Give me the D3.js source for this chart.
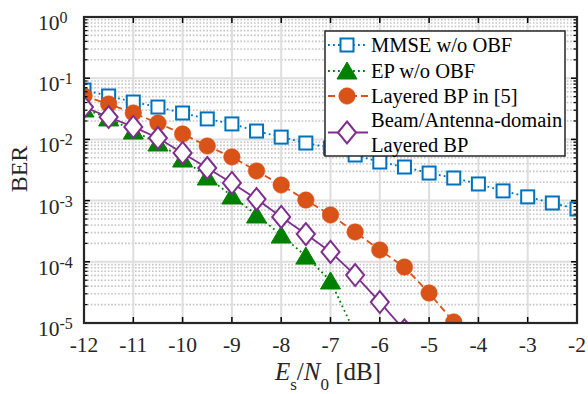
<!DOCTYPE html>
<html><head><meta charset="utf-8">
<script src="https://cdn.jsdelivr.net/npm/d3@7/dist/d3.min.js"></script>
<style>body{margin:0;background:#fff}svg{display:block}</style>
</head><body><svg id="c" width="588" height="394"></svg>
<script>
const xTicks = [-12,-11,-10,-9,-8,-7,-6,-5,-4,-3,-2];
const yTickExps = [0,-1,-2,-3,-4,-5];

const mmseX = [-12,-11.5,-11,-10.5,-10,-9.5,-9,-8.5,-8,-7.5,-7,-6.5,-6,-5.5,-5,-4.5,-4,-3.5,-3,-2.5,-2];
const mmseY = [0.064,0.0512,0.0408,0.0338,0.027,0.0216,0.0179,0.0137,0.0109,0.00873,0.00723,0.00556,0.00427,0.00354,0.00282,0.00234,0.00187,0.00144,0.00115,0.000914,0.00073];

const epX = [-12,-11.5,-11,-10.5,-10,-9.5,-9,-8.5,-8,-7.5,-7,-6.5];
const epY = [0.0314,0.0224,0.0137,0.00873,0.00478,0.00243,0.00119,0.000582,0.000274,0.000124,4.86e-5,6.7e-6];

const lbpX = [-12,-11.5,-11,-10.5,-10,-9.5,-9,-8.5,-8,-7.5,-7,-6.5,-6,-5.5,-5,-4.5];
const lbpY = [0.0512,0.0379,0.027,0.0185,0.01226,0.0078,0.00516,0.00305,0.0018,0.00102,0.000582,0.000307,0.000156,8.2e-5,3.09e-5,1.04e-5];

const baX = [-12,-11.5,-11,-10.5,-10,-9.5,-9,-8.5,-8,-7.5,-7,-6.5,-6,-5.5];
const baY = [0.0338,0.0232,0.016,0.01054,0.006,0.00341,0.00194,0.00106,0.00054,0.000284,0.000145,6.08e-5,2.2e-5,7.6e-6];

const legendLabels = [["MMSE w/o OBF"],["EP w/o OBF"],["Layered BP in [5]"],["Beam/Antenna-domain","Layered BP"]];

const L=84, R=577, T=17, B=323;
const svg = d3.select("#c");
const x = d3.scaleLinear().domain([-12,-2]).range([L,R]);
const y = d3.scaleLog().domain([1e-5,1]).range([B,T]);
const FONT = "'Liberation Serif','Times New Roman',serif";

svg.append("defs").append("clipPath").attr("id","clip")
  .append("rect").attr("x",L).attr("y",T).attr("width",R-L).attr("height",B-T);

// minor grid (y)
const minorVals = [];
for (let e=-5;e<0;e++) for (let m=2;m<=9;m++) minorVals.push(m*Math.pow(10,e));
const grid = svg.append("g");
grid.selectAll(".mg").data(minorVals).enter().append("line")
  .attr("x1",L).attr("x2",R).attr("y1",d=>y(d)).attr("y2",d=>y(d))
  .attr("stroke","#c4c4c4").attr("stroke-width",1.6).attr("stroke-dasharray","1.6,1.8");
// major grid
grid.selectAll(".gx").data(xTicks).enter().append("line")
  .attr("x1",d=>x(d)).attr("x2",d=>x(d)).attr("y1",T).attr("y2",B)
  .attr("stroke","#dedede").attr("stroke-width",2);
grid.selectAll(".gy").data(yTickExps).enter().append("line")
  .attr("x1",L).attr("x2",R).attr("y1",d=>y(Math.pow(10,d))).attr("y2",d=>y(Math.pow(10,d)))
  .attr("stroke","#dedede").attr("stroke-width",2);

// marker painters
function drawMarker(g, type, cx, cy, color){
  if(type==="square"){
    g.append("rect").attr("x",cx-6.5).attr("y",cy-6.5).attr("width",13).attr("height",13)
      .attr("fill","#fff").attr("stroke",color).attr("stroke-width",2);
  } else if(type==="tri"){
    g.append("path").attr("d",`M${cx},${cy-9}L${cx+10},${cy+8}L${cx-10},${cy+8}Z`)
      .attr("fill",color).attr("stroke",color).attr("stroke-width",1);
  } else if(type==="circle"){
    g.append("circle").attr("cx",cx).attr("cy",cy).attr("r",8.3)
      .attr("fill",color).attr("stroke",color).attr("stroke-width",0.5);
  } else if(type==="diamond"){
    g.append("path").attr("d",`M${cx},${cy-11}L${cx+9},${cy}L${cx},${cy+11}L${cx-9},${cy}Z`)
      .attr("fill","#fff").attr("stroke",color).attr("stroke-width",2);
  }
}

const series = [
  {xs:mmseX, ys:mmseY, color:"#0072BD", dash:"1.8,3.2", marker:"square", w:1.8},
  {xs:epX, ys:epY, color:"#008000", dash:"1.8,3.2", marker:"tri", w:1.8},
  {xs:lbpX, ys:lbpY, color:"#D95319", dash:"7,4", marker:"circle", w:1.8},
  {xs:baX, ys:baY, color:"#7E2F8E", dash:null, marker:"diamond", w:1.8}
];

const plot = svg.append("g").attr("clip-path","url(#clip)");
const line = d3.line().x(d=>x(d[0])).y(d=>y(d[1]));
series.forEach(s=>{
  const pts = s.xs.map((v,i)=>[v,s.ys[i]]);
  plot.append("path").datum(pts).attr("d",line).attr("fill","none")
    .attr("stroke",s.color).attr("stroke-width",s.w)
    .attr("stroke-dasharray",s.dash);
});
series.forEach(s=>{
  const g = plot.append("g");
  s.xs.forEach((v,i)=>drawMarker(g,s.marker,x(v),y(s.ys[i]),s.color));
});

// axes box & ticks
const ax = svg.append("g").attr("stroke","#000").attr("stroke-width",1.5);
xTicks.forEach(t=>{
  ax.append("line").attr("x1",x(t)).attr("x2",x(t)).attr("y1",B).attr("y2",B-6);
  ax.append("line").attr("x1",x(t)).attr("x2",x(t)).attr("y1",T).attr("y2",T+6);
});
yTickExps.forEach(e=>{
  const yy=y(Math.pow(10,e));
  ax.append("line").attr("x1",L).attr("x2",L+6).attr("y1",yy).attr("y2",yy);
  ax.append("line").attr("x1",R).attr("x2",R-6).attr("y1",yy).attr("y2",yy);
});
minorVals.forEach(v=>{
  const yy=y(v);
  ax.append("line").attr("x1",L).attr("x2",L+3.5).attr("y1",yy).attr("y2",yy).attr("stroke-width",1.2);
  ax.append("line").attr("x1",R).attr("x2",R-3.5).attr("y1",yy).attr("y2",yy).attr("stroke-width",1.2);
});
svg.append("rect").attr("x",L).attr("y",T).attr("width",R-L).attr("height",B-T)
  .attr("fill","none").attr("stroke","#262626").attr("stroke-width",2.2);

// tick labels
const txt = svg.append("g").attr("font-family",FONT).attr("fill","#262626");
xTicks.forEach(t=>{
  txt.append("text").attr("x",x(t)).attr("y",B+29).attr("text-anchor","middle")
    .attr("font-size",21.5).text(t<0? "-"+Math.abs(t) : t);
});
yTickExps.forEach(e=>{
  const yy=y(Math.pow(10,e));
  const tx = txt.append("text").attr("x",38).attr("y",yy+13).attr("font-size",21.5);
  tx.append("tspan").text("10");
  tx.append("tspan").attr("dy",-7).attr("font-size",16).text(e===0?"0":"-"+Math.abs(e));
});

// axis labels
const xl = txt.append("text").attr("x",328).attr("y",380).attr("text-anchor","middle").attr("font-size",25);
xl.append("tspan").attr("font-style","italic").text("E");
xl.append("tspan").attr("dy",10).attr("font-size",17).text("s");
xl.append("tspan").attr("dy",-10).text("/");
xl.append("tspan").attr("font-style","italic").text("N");
xl.append("tspan").attr("dy",10).attr("font-size",17).text("0");
xl.append("tspan").attr("dy",-10).text(" [dB]");

txt.append("text").attr("transform","translate(27,169) rotate(-90)").attr("text-anchor","middle")
  .attr("font-size",24).text("BER");

// legend
const lg = svg.append("g");
lg.append("rect").attr("x",325).attr("y",31).attr("width",240).attr("height",125)
  .attr("fill","#fff").attr("stroke","#262626").attr("stroke-width",1.5);
const rowsY = [[45],[71],[96],[120,145]];
series.forEach((s,i)=>{
  const cy = (rowsY[i][0] + rowsY[i][rowsY[i].length-1])/2;
  lg.append("line").attr("x1",328).attr("x2",368).attr("y1",cy).attr("y2",cy)
    .attr("stroke",s.color).attr("stroke-width",s.w).attr("stroke-dasharray",s.dash);
  drawMarker(lg,s.marker,347,cy,s.color);
  legendLabels[i].forEach((t,j)=>{
    lg.append("text").attr("x",371).attr("y",rowsY[i][j]+7).attr("font-family",FONT)
      .attr("font-size",20.5).attr("fill","#000").text(t);
  });
});
</script></body></html>
